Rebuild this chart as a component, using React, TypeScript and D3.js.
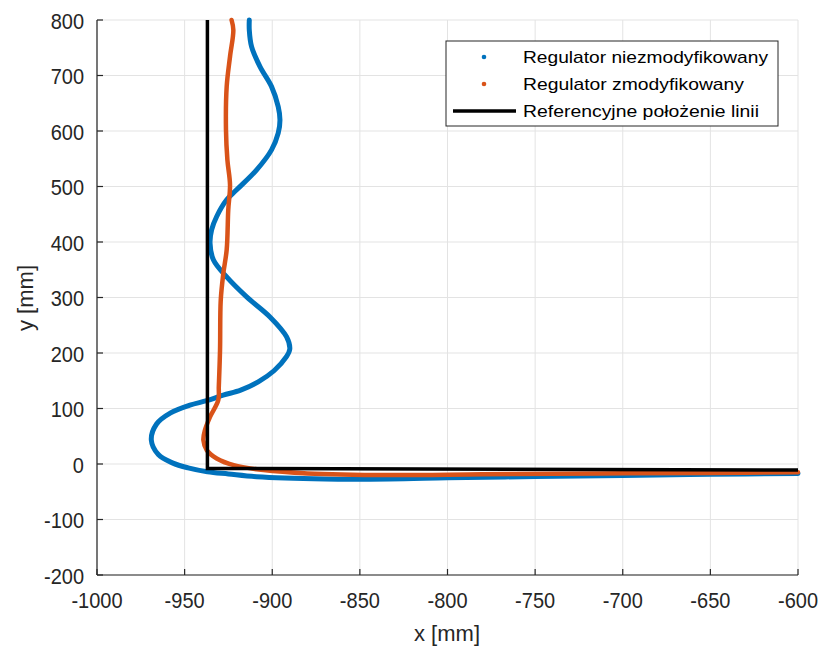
import React from "react";
import * as d3 from "d3";

const xTicks = [-1000, -950, -900, -850, -800, -750, -700, -650, -600];
const yTicks = [-200, -100, 0, 100, 200, 300, 400, 500, 600, 700, 800];

// Regulator niezmodyfikowany (blue)
const blueX = [-600, -650, -700, -750, -800, -833, -870, -909, -925, -937, -948, -957, -965, -969, -966, -958, -947, -937.4, -928, -918, -908, -899, -892, -890, -891.8, -901.3, -914.6, -926, -933.6, -935.5, -934.6, -931.7, -926, -920.3, -908.9, -900.4, -896.6, -895.6, -896.6, -900.4, -907, -911.8, -913.1, -913.1];
const blueY = [-17, -18.5, -20.5, -22.5, -25, -27, -27, -23, -18, -14, -7, 2, 17, 43, 72, 92, 106, 114, 124, 133, 148, 168, 193, 207, 229, 265, 301, 337, 368, 398, 422, 446, 476, 494, 530, 566, 596, 620, 644, 680, 716, 752, 782, 800];

// Regulator zmodyfikowany (orange)
const orangeX = [-600, -650, -713, -780, -833, -880, -905, -922, -931.7, -937.4, -939.3, -938.4, -935.5, -930.8, -930.5, -929.8, -929.4, -927.9, -926, -925.1, -924.1, -925.6, -926.4, -926, -924.1, -922.2, -923.2];
const orangeY = [-15, -16, -17, -18.5, -20, -17, -11, -2, 10, 25, 43, 61, 85, 115, 139, 205, 295, 344, 386, 458, 503, 548, 602, 680, 734, 782, 800];

// Referencyjne położenie linii (black)
const refX = [-937, -937, -600];
const refY = [800, -8, -11];

const legendLabels = ["Regulator niezmodyfikowany", "Regulator zmodyfikowany", "Referencyjne położenie linii"];
const legendWidths = [245, 221, 236];

const W = 822, H = 648;
const L = 97, R = 798, T = 20, B = 575;
const FONT = "'Liberation Sans', Arial, Helvetica, sans-serif";
const BLUE = "#0072BD", ORANGE = "#D95319";

export default function App() {
  const x = d3.scaleLinear().domain([-1000, -600]).range([L, R]);
  const y = d3.scaleLinear().domain([-200, 800]).range([B, T]);
  const line = d3.line<[number, number]>().x(d => x(d[0])).y(d => y(d[1])).curve(d3.curveCatmullRom.alpha(0.5));
  const lineLin = d3.line<[number, number]>().x(d => x(d[0])).y(d => y(d[1]));
  const blue: [number, number][] = blueX.map((v, i) => [v, blueY[i]]);
  const orange: [number, number][] = orangeX.map((v, i) => [v, orangeY[i]]);
  const ref: [number, number][] = refX.map((v, i) => [v, refY[i]]);

  const lgX = 446, lgY = 41, lgW = 332, lgH = 85;
  const rows = [57, 84, 111];

  return (
    <svg width={W} height={H} style={{ position: "absolute", left: 0, top: 0, background: "#fff" }} fontFamily={FONT}>
      <rect x={0} y={0} width={W} height={H} fill="#fff" />
      {xTicks.map(t => (
        <line key={"gx" + t} x1={x(t)} x2={x(t)} y1={T} y2={B} stroke="#e3e3e3" strokeWidth={1} />
      ))}
      {yTicks.map(t => (
        <line key={"gy" + t} x1={L} x2={R} y1={y(t)} y2={y(t)} stroke="#e3e3e3" strokeWidth={1} />
      ))}
      <path d={line(blue) || ""} fill="none" stroke={BLUE} strokeWidth={5} strokeLinejoin="round" strokeLinecap="round" />
      <path d={line(orange) || ""} fill="none" stroke={ORANGE} strokeWidth={4.5} strokeLinejoin="round" strokeLinecap="round" />
      <path d={lineLin(ref) || ""} fill="none" stroke="#000" strokeWidth={3.5} />
      {/* axes */}
      <line x1={L} x2={R} y1={B} y2={B} stroke="#262626" strokeWidth={1.2} />
      <line x1={L} x2={L} y1={T} y2={B} stroke="#262626" strokeWidth={1.2} />
      {xTicks.map(t => (
        <g key={"tx" + t}>
          <line x1={x(t)} x2={x(t)} y1={B} y2={B - 6} stroke="#262626" strokeWidth={1.2} />
          <text transform={`translate(${x(t)},608) scale(1,1.12)`} textAnchor="middle" fontSize={20} fill="#262626">{t}</text>
        </g>
      ))}
      {yTicks.map(t => (
        <g key={"ty" + t}>
          <line x1={L} x2={L + 6} y1={y(t)} y2={y(t)} stroke="#262626" strokeWidth={1.2} />
          <text transform={`translate(84,${y(t) + 8.5}) scale(1,1.12)`} textAnchor="end" fontSize={20} fill="#262626">{t}</text>
        </g>
      ))}
      <text x={447} y={641} textAnchor="middle" fontSize={22} fill="#262626">x [mm]</text>
      <text transform={`translate(33,298) rotate(-90)`} textAnchor="middle" fontSize={22} fill="#262626">y [mm]</text>
      {/* legend */}
      <rect x={lgX} y={lgY} width={lgW} height={lgH} fill="#fff" stroke="#262626" strokeWidth={1} />
      <circle cx={484} cy={rows[0]} r={2.3} fill={BLUE} />
      <circle cx={484} cy={rows[1]} r={2.3} fill={ORANGE} />
      <line x1={453} x2={516} y1={rows[2]} y2={rows[2]} stroke="#000" strokeWidth={3.5} />
      {legendLabels.map((s, i) => (
        <text key={s} x={523} y={rows[i] + 6} fontSize={17} fill="#000" textLength={legendWidths[i]} lengthAdjust="spacingAndGlyphs">{s}</text>
      ))}
    </svg>
  );
}
